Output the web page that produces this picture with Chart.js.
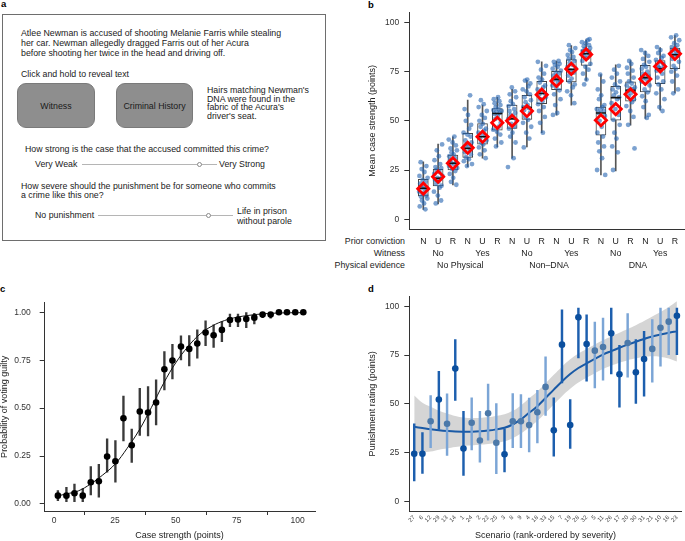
<!DOCTYPE html>
<html>
<head>
<meta charset="utf-8">
<script src="https://cdn.jsdelivr.net/npm/chart.js@4.4.1/dist/chart.umd.min.js"></script>
<style>
  body { margin: 0; width: 685px; height: 541px; overflow: hidden; background: #fff;
         font-family: "Liberation Sans", Arial, sans-serif; color: #1a1a1a; position: relative; }
  .t { position: absolute; white-space: nowrap; font-size: 8.8px; line-height: 10px; }
  .lab { position: absolute; font-weight: bold; font-size: 9.5px; line-height: 10px; color: #000; }
  .btn { position: absolute; background: #8e8e8e; border: 1px solid #7a7a7a; border-radius: 9px;
         box-sizing: border-box; font-size: 8.8px; display: flex; align-items: center; justify-content: center; }
  .slider { position: absolute; height: 1px; background: #b5b5b5; }
  .knob { position: absolute; width: 5px; height: 5px; border: 1px solid #8a8a8a; border-radius: 50%;
          background: #fff; box-sizing: border-box; }
  .row { position: absolute; right: 280px; white-space: nowrap; font-size: 8.8px; line-height: 10px; color: #222; }
  canvas { position: absolute; }
</style>
</head>
<body>

<div class="lab" style="left:1px;top:-1px">a</div>
<div class="lab" style="left:368px;top:0px">b</div>
<div class="lab" style="left:0px;top:284px">c</div>
<div class="lab" style="left:368px;top:284px">d</div>

<!-- panel a: survey screen -->
<div style="position:absolute;left:2px;top:14px;width:324px;height:227px;border:1px solid #6e6e6e;box-sizing:border-box"></div>
<div class="t" style="left:21px;top:28px">Atlee Newman is accused of shooting Melanie Farris while stealing<br>her car. Newman allegedly dragged Farris out of her Acura<br>before shooting her twice in the head and driving off.</div>
<div class="t" style="left:21px;top:69px">Click and hold to reveal text</div>
<div class="btn" style="left:17px;top:83px;width:78px;height:45px">Witness</div>
<div class="btn" style="left:116px;top:83px;width:77px;height:45px">Criminal History</div>
<div class="t" style="left:207px;top:86px;line-height:8.6px">Hairs matching Newman's<br>DNA were found in the<br>fabric of the Acura's<br>driver's seat.</div>
<div class="t" style="left:25px;top:144px">How strong is the case that the accused committed this crime?</div>
<div class="t" style="left:35px;top:159px">Very Weak</div>
<div class="slider" style="left:82px;top:164px;width:135px"></div>
<div class="knob" style="left:196.5px;top:161.5px"></div>
<div class="t" style="left:219px;top:159px">Very Strong</div>
<div class="t" style="left:21px;top:182px;line-height:9.4px">How severe should the punishment be for someone who commits<br>a crime like this one?</div>
<div class="t" style="left:35px;top:210px">No punishment</div>
<div class="slider" style="left:98px;top:215px;width:135px"></div>
<div class="knob" style="left:206px;top:212.5px"></div>
<div class="t" style="left:237px;top:205.5px">Life in prison<br>without parole</div>

<!-- panel b row captions -->
<div class="row" style="top:236px">Prior conviction</div>
<div class="row" style="top:248px">Witness</div>
<div class="row" style="top:260px">Physical evidence</div>

<canvas id="chartB" width="345" height="280" style="left:340px;top:0px"></canvas>
<canvas id="chartC" width="340" height="261" style="left:0px;top:280px"></canvas>
<canvas id="chartD" width="345" height="261" style="left:340px;top:280px"></canvas>

<script>
// ---- panel b: mean case strength per scenario type ----
var priorConviction = ['N', 'U', 'R', 'N', 'U', 'R', 'N', 'U', 'R', 'N', 'U', 'R', 'N', 'U', 'R', 'N', 'U', 'R'];
var witnessLabels = ['No', 'Yes', 'No', 'Yes', 'No', 'Yes'];
var evidenceLabels = ['No Physical', 'Non\u2013DNA', 'DNA'];
var caseMean = [15.5, 21.6, 28.4, 36.3, 41.9, 49, 50, 55, 63.3, 70.3, 76.4, 83.8, 50.3, 56, 63.5, 71.3, 77.7, 84.1];
var caseMedian = [15.7, 20.8, 28.4, 36, 41.9, 53.7, 51, 56.8, 63.9, 71.1, 76.2, 84.1, 54, 61.8, 65.5, 72, 76.5, 83.6];
var caseQ1 = [11.8, 16.9, 25, 31.4, 38.2, 45.3, 46.1, 50.7, 58.8, 65.9, 69.8, 78.2, 42.7, 50.3, 60, 64.7, 68.9, 76.5];
var caseQ3 = [20.3, 25.3, 32.6, 43.6, 48.6, 56.3, 58, 63, 70.1, 75.2, 81.1, 86.1, 57, 67.6, 69.8, 78.2, 80.7, 87];
var caseLow = [5, 7.8, 17.4, 26.7, 31, 36.8, 31, 36.8, 44, 52.9, 58, 70.6, 22.5, 24.6, 47.8, 51.2, 55.4, 64.2];
var caseHigh = [29.2, 38.2, 41.9, 60.5, 58, 62, 66, 70.6, 80, 80.4, 88.3, 91.2, 73.5, 78.5, 80.7, 85.5, 87.2, 93.4];
var caseRatings = [
  [5, 6.5, 8, 9.5, 10.5, 11.5, 12, 13, 14, 15, 15.5, 16, 17, 18, 19, 20, 21, 22, 24, 25.5, 27, 29],
  [8, 9.5, 12, 14, 16, 17, 18, 19, 20, 20.5, 21, 22, 23, 24, 25, 26, 26.5, 28, 30, 32, 35, 38],
  [17.5, 19, 21, 23, 24.5, 25.5, 26, 27, 28, 28.5, 29, 30, 31, 32, 33, 34, 35, 36, 37.5, 39, 40.5, 42],
  [27, 28, 29.5, 30.5, 31.5, 33, 34, 35, 36, 37, 38, 39, 40, 42, 43, 44, 46, 48, 50, 53, 56, 63],
  [31, 33, 35, 36.5, 38, 39, 40, 41, 42, 43, 44, 45, 46, 47, 48.5, 50, 51.5, 53, 55, 57, 58.5, 60.5],
  [37, 39, 41, 43, 44.5, 45.5, 47, 49, 51, 52.5, 53.5, 54, 54.5, 55, 55.5, 56, 57, 58, 59, 60, 61, 62],
  [26.5, 31, 39, 42, 44, 46, 47, 48.5, 50, 51, 52, 53, 54, 55, 56, 57.5, 58.5, 60, 62, 63.5, 65, 67],
  [36.5, 41, 44, 47, 49, 50.5, 52, 54, 55.5, 56.5, 57, 58, 59.5, 60.5, 62, 63.5, 65, 66, 67.5, 69, 70.5, 71],
  [44, 49, 52, 55, 57, 58.5, 60, 61, 62, 63.5, 64, 65, 66, 67, 68, 69.5, 71, 72, 74, 76, 78, 80],
  [53, 54, 58, 61, 63.5, 65.5, 67, 68, 69.5, 70.5, 71, 72, 73, 74, 74.5, 75.5, 76.5, 77.5, 78.5, 79, 80, 80.5],
  [59, 63, 65, 67, 68.5, 70, 71.5, 73, 74.5, 75.5, 76.5, 77.5, 78.5, 79.5, 80.5, 81.5, 82.5, 83.5, 85, 86, 87, 88.5],
  [68.5, 71, 74, 76, 77.5, 79, 80.5, 82, 83, 84, 84.5, 85, 85.5, 86, 86.5, 87, 88, 88.5, 89.5, 90, 91, 91.5],
  [22.5, 25, 31, 34.5, 37, 39, 42, 44, 47, 50, 52.5, 54, 55, 55.5, 56, 57, 58, 61, 63, 66, 70, 73.5],
  [25, 34, 37, 41, 44, 48, 50.5, 53, 56, 59, 61, 62, 63, 64.5, 66, 67, 68.5, 70, 72, 74, 76, 78],
  [36, 48, 52, 55, 57.5, 59.5, 61, 62.5, 64, 65, 66, 66.5, 67, 68, 69, 70, 72, 74, 75.5, 77, 79, 80.5],
  [51.5, 53, 57, 60, 62.5, 64.5, 66, 68, 70, 71, 72, 73, 74, 75, 76.5, 77.5, 78.5, 80, 81.5, 83, 84.5, 86],
  [55, 57, 61, 64, 66, 68.5, 70, 72, 74, 75.5, 76.5, 77, 77.5, 78, 79, 80, 81, 82, 83, 84.5, 86, 87.5],
  [64, 66, 70, 73, 75, 76.5, 78, 80, 81.5, 83, 83.5, 84, 85, 85.5, 86, 87, 87.5, 88.5, 89.5, 91, 92.5, 93.5]
];

// ---- panel c: probability of voting guilty ----
var strengthBins = [1.6, 5.1, 8.4, 11.8, 15.1, 18.4, 21.8, 25.2, 28.5, 31.9, 35.2, 38.6, 41.9, 45.3, 48.6, 52.1, 55.5, 58.8, 62.2, 65.5, 68.9, 72.2, 75.5, 78.9, 82.2, 85.6, 88.9, 92.3, 95.6, 99, 102.3];
var guiltyProb = [0.043, 0.043, 0.056, 0.043, 0.113, 0.118, 0.247, 0.223, 0.447, 0.306, 0.482, 0.477, 0.529, 0.703, 0.748, 0.821, 0.809, 0.837, 0.894, 0.88, 0.908, 0.96, 0.962, 0.965, 0.972, 0.988, 0.988, 1, 1, 1, 1];
var guiltyLow = [0.017, 0.012, 0.012, 0.012, 0.047, 0.035, 0.165, 0.113, 0.329, 0.217, 0.358, 0.355, 0.412, 0.595, 0.652, 0.751, 0.72, 0.76, 0.826, 0.816, 0.847, 0.925, 0.925, 0.92, 0.939, 0.972, 0.969, 1, 1, 1, 1];
var guiltyHigh = [0.07, 0.087, 0.104, 0.08, 0.195, 0.207, 0.339, 0.33, 0.563, 0.391, 0.603, 0.612, 0.647, 0.795, 0.833, 0.877, 0.878, 0.908, 0.955, 0.934, 0.951, 0.99, 0.99, 0.998, 0.995, 0.998, 0.998, 1, 1, 1, 1];
var curveStrength = [1.6, 5, 10, 15, 20, 25, 30, 35, 40, 45, 50, 55, 60, 65, 70, 75, 80, 85, 90, 95, 102.3];
var curveProb = [0.042, 0.052, 0.068, 0.104, 0.151, 0.207, 0.29, 0.386, 0.504, 0.63, 0.737, 0.821, 0.887, 0.929, 0.957, 0.974, 0.984, 0.991, 0.995, 0.997, 0.998];

// ---- panel d: punishment rating by scenario ----
var scenarioOrder = ['27', '6', '12', '29', '13', '14', '1', '24', '2', '22', '25', '3', '8', '9', '4', '18', '33', '15', '7', '19', '28', '32', '5', '11', '26', '17', '20', '30', '31', '21', '10', '16', '23'];
var punishMean = [24.4, 24.4, 41.1, 52.2, 39.8, 68.1, 27.1, 40.3, 31.2, 45.2, 30, 24.1, 41.1, 41.1, 39.1, 45.7, 58.7, 36.4, 80.4, 39.1, 94.4, 80.7, 77.3, 79.2, 86.2, 65.2, 81.2, 66.2, 73, 78.2, 89.1, 92.2, 95.2];
var punishLow = [10.4, 14.3, 27.5, 36.9, 23.5, 51.7, 13.3, 26.3, 20.1, 31.4, 14.2, 15, 27.5, 27.5, 25.3, 30, 44, 23.2, 60.8, 27.1, 73.6, 61.6, 58.2, 62.1, 65.4, 48.3, 63.7, 50.2, 53.9, 61.1, 69.3, 75.3, 75.3];
var punishHigh = [39.8, 35.2, 54.3, 66.7, 55.1, 83, 46.2, 53.1, 46.2, 60.2, 50.2, 37.2, 55.3, 54.8, 52.9, 57, 74.1, 53.1, 98.3, 52.2, 99.2, 95.7, 92, 94, 99.2, 80, 96.3, 83, 87.2, 93.2, 99.2, 99.2, 99.2];
var smoothFit = [38.2, 37.6, 37, 36.5, 36.1, 35.8, 35.7, 35.7, 35.9, 36.3, 36.9, 37.7, 39.4, 42, 45.4, 48.8, 53, 57.3, 61.5, 65.3, 68.4, 70.8, 73.1, 75.3, 77.1, 78.8, 80.4, 81.9, 83.3, 84.6, 85.6, 86.5, 87.2];
var smoothUpper = [54.3, 50.6, 48.5, 46.5, 45.1, 43.8, 43, 42.7, 42.8, 43.2, 43.8, 44.6, 46.4, 49.2, 52.9, 56.4, 60.6, 64.9, 69.1, 72.9, 75.9, 78.2, 80.5, 82.7, 84.6, 86.5, 88.4, 90.4, 92.5, 94.8, 97.1, 99.7, 102.7];
var smoothLower = [24.5, 25, 25.5, 26.5, 27.1, 27.8, 28.4, 28.7, 29, 29.4, 30, 30.8, 32.4, 34.8, 37.9, 41.2, 45.4, 49.7, 53.9, 57.7, 60.9, 63.4, 65.7, 67.9, 69.6, 71.1, 72.4, 73.4, 74.1, 74.4, 74.1, 73.3, 71.7];

Chart.defaults.font.family = '"Liberation Sans", Arial, sans-serif';
Chart.defaults.color = '#333';
Chart.defaults.animation = false;
Chart.defaults.events = [];
Chart.defaults.plugins.legend.display = false;
Chart.defaults.plugins.tooltip.enabled = false;

function fixedTicks(values) {
  return function (axis) {
    axis.ticks = values.map(function (v) { return { value: v }; });
  };
}

// y axis shared by b and d
function strengthAxis(title) {
  return {
    min: -5, max: 105,
    afterBuildTicks: fixedTicks([0, 25, 50, 75, 100]),
    ticks: { padding: 5, font: { size: 8.5 }, color: '#333' },
    grid: { drawOnChartArea: false, tickLength: 5, color: '#333' },
    border: { color: '#333' },
    title: { display: true, text: title, font: { size: 9, lineHeight: 1.2 }, color: '#222', padding: 0 },
    afterFit: function (a) { a.width = 41.7; }
  };
}

// ---- draw b ----
var catIndex = priorConviction.map(function (c, i) { return i + 1; });
var jitterOffsets = [0.14, -0.24, 0.05, -0.09, 0.27, -0.16, 0.2, -0.02, -0.28, 0.1, 0.23, -0.13, 0.02, -0.21, 0.16, -0.05, 0.29, -0.26, 0.08, -0.11, 0.21, -0.18];
var ratingPoints = [];
caseRatings.forEach(function (vals, i) {
  vals.forEach(function (v, j) {
    ratingPoints.push({ x: i + 1 + jitterOffsets[(j + i * 5) % jitterOffsets.length], y: v });
  });
});
var bMin = 0.054, bMax = 18.68;

new Chart(document.getElementById('chartB'), {
  type: 'bar',
  data: {
    datasets: [
      { type: 'scatter', data: catIndex.map(function (x, i) { return { x: x, y: caseMean[i] }; }),
        pointStyle: 'rectRot', pointRadius: 5.6, pointBorderWidth: 2.8, pointBorderColor: '#ff0000',
        pointBackgroundColor: 'rgba(0,0,0,0)', order: 0 },
      { type: 'scatter', data: catIndex.map(function (x, i) { return { x: x, y: caseMedian[i] }; }),
        pointStyle: 'line', pointRadius: 5, pointBorderWidth: 1.6, pointBorderColor: '#111', order: 1 },
      { type: 'scatter', data: ratingPoints, pointRadius: 2.4, pointBorderWidth: 0,
        pointBackgroundColor: 'rgba(36,100,176,0.6)', order: 2 },
      { type: 'bar', data: catIndex.map(function (x, i) { return { x: x, y: [caseQ1[i], caseQ3[i]] }; }),
        backgroundColor: '#ffffff', borderColor: '#444', borderWidth: 1, borderSkipped: false,
        barThickness: 10, grouped: false, order: 3 },
      { type: 'bar', data: catIndex.map(function (x, i) { return { x: x, y: [caseLow[i], caseHigh[i]] }; }),
        backgroundColor: '#555', borderWidth: 0, barThickness: 1, grouped: false, order: 4 }
    ]
  },
  options: {
    responsive: false,
    layout: { autoPadding: false, padding: { left: 27.6, top: 12.7, right: 0, bottom: 8 } },
    scales: {
      x: {
        type: 'linear', min: bMin, max: bMax, weight: 0, offset: false,
        afterBuildTicks: fixedTicks(catIndex),
        ticks: { autoSkip: false, maxRotation: 0, padding: 0, font: { size: 8.8 }, color: '#222',
                 callback: function (v, i) { return priorConviction[i]; } },
        grid: { drawOnChartArea: false, drawTicks: true, tickLength: 7, color: 'rgba(0,0,0,0)' },
        border: { color: '#333' },
        afterFit: function (a) { a.height = 19; }
      },
      x2: {
        type: 'linear', position: 'bottom', min: bMin, max: bMax, weight: 1, offset: false,
        afterBuildTicks: fixedTicks([2, 5, 8, 11, 14, 17]),
        ticks: { autoSkip: false, maxRotation: 0, padding: 0, font: { size: 8.8 }, color: '#222',
                 callback: function (v, i) { return witnessLabels[i]; } },
        grid: { display: false, drawTicks: false },
        border: { display: false },
        afterFit: function (a) { a.height = 12; }
      },
      x3: {
        type: 'linear', position: 'bottom', min: bMin, max: bMax, weight: 2, offset: false,
        afterBuildTicks: fixedTicks([3.5, 9.5, 15.5]),
        ticks: { autoSkip: false, maxRotation: 0, padding: 0, font: { size: 8.8 }, color: '#222',
                 callback: function (v, i) { return evidenceLabels[i]; } },
        grid: { display: false, drawTicks: false },
        border: { display: false },
        afterFit: function (a) { a.height = 12; }
      },
      y: strengthAxis('Mean case strength (points)')
    }
  }
});

// ---- draw c ----
new Chart(document.getElementById('chartC'), {
  type: 'bar',
  data: {
    datasets: [
      { type: 'scatter', data: strengthBins.map(function (x, i) { return { x: x, y: guiltyProb[i] }; }),
        pointRadius: 3.3, pointBorderWidth: 0, pointBackgroundColor: '#000', order: 0 },
      { type: 'line', data: curveStrength.map(function (x, i) { return { x: x, y: curveProb[i] }; }),
        borderColor: '#111', borderWidth: 1, pointRadius: 0, tension: 0.4, order: 1 },
      { type: 'bar', data: strengthBins.map(function (x, i) { return { x: x, y: [guiltyLow[i], guiltyHigh[i]] }; }),
        backgroundColor: '#3a3a3a', borderWidth: 0, barThickness: 1.7, grouped: false, order: 2 }
    ]
  },
  options: {
    responsive: false,
    layout: { autoPadding: false, padding: { left: 0, top: 22.7, right: 25, bottom: 0 } },
    scales: {
      x: {
        type: 'linear', min: -4.1, max: 107.1, offset: false,
        afterBuildTicks: fixedTicks([0, 25, 50, 75, 100]),
        ticks: { padding: 1, font: { size: 8.5 }, color: '#333', maxRotation: 0 },
        grid: { drawOnChartArea: false, tickLength: 4, color: '#333' },
        border: { color: '#333' },
        title: { display: true, text: 'Case strength (points)', font: { size: 9 }, color: '#222', padding: 0 },
        afterFit: function (a) { a.height = 30; }
      },
      y: {
        min: -0.037, max: 1.05,
        afterBuildTicks: fixedTicks([0, 0.25, 0.5, 0.75, 1]),
        ticks: { padding: 9, font: { size: 8.5 }, color: '#333',
                 callback: function (v) { return v.toFixed(2); } },
        grid: { drawOnChartArea: false, tickLength: 4.3, color: '#333' },
        border: { color: '#333' },
        title: { display: true, text: 'Probability of voting guilty', font: { size: 9, lineHeight: 1 }, color: '#222', padding: 0 },
        afterFit: function (a) { a.width = 44; }
      }
    }
  }
});

// ---- draw d ----
var scenarioIndex = scenarioOrder.map(function (s, i) { return i + 1; });
// darker / lighter blue per scenario, as in the picture
var darkScenario = [1, 1, 0, 1, 0, 1, 1, 0, 0, 0, 0, 1, 0, 0, 0, 0, 0, 1, 1, 1, 1, 1, 0, 0, 1, 1, 0, 1, 1, 0, 0, 0, 1];
var dotColors = darkScenario.map(function (d) { return d ? '#0b4f9e' : '#4c79a9'; });
var barColors = darkScenario.map(function (d) { return d ? '#1d5fae' : '#7ba5d6'; });

new Chart(document.getElementById('chartD'), {
  type: 'bar',
  data: {
    datasets: [
      { type: 'scatter', data: scenarioIndex.map(function (x, i) { return { x: x, y: punishMean[i] }; }),
        pointRadius: 3.3, pointBorderWidth: 0, pointBackgroundColor: dotColors, order: 0 },
      { type: 'bar', data: scenarioIndex.map(function (x, i) { return { x: x, y: [punishLow[i], punishHigh[i]] }; }),
        backgroundColor: barColors, borderWidth: 0, barThickness: 1.8, grouped: false, order: 1 },
      { type: 'line', data: scenarioIndex.map(function (x, i) { return { x: x, y: smoothFit[i] }; }),
        borderColor: '#1a5aa6', borderWidth: 2, pointRadius: 0, tension: 0.4, order: 2 },
      { type: 'line', data: scenarioIndex.map(function (x, i) { return { x: x, y: smoothUpper[i] }; }),
        borderWidth: 0, pointRadius: 0, tension: 0.4, fill: '+1', backgroundColor: '#d5d5d5', order: 3 },
      { type: 'line', data: scenarioIndex.map(function (x, i) { return { x: x, y: smoothLower[i] }; }),
        borderWidth: 0, pointRadius: 0, tension: 0.4, fill: false, order: 4 }
    ]
  },
  options: {
    responsive: false,
    layout: { autoPadding: false, padding: { left: 27.6, top: 16.7, right: 0, bottom: 0 } },
    scales: {
      x: {
        type: 'linear', min: 0.4, max: 33.6, offset: false,
        afterBuildTicks: fixedTicks(scenarioIndex),
        ticks: { autoSkip: false, minRotation: 45, maxRotation: 45, padding: 3, font: { size: 6 }, color: '#444',
                 callback: function (v, i) { return scenarioOrder[i]; } },
        grid: { display: false, drawTicks: false },
        border: { color: '#333' },
        title: { display: true, text: 'Scenario (rank-ordered by severity)', font: { size: 9 }, color: '#222', padding: 0 },
        afterFit: function (a) { a.height = 30; }
      },
      y: strengthAxis('Punishment rating (points)')
    }
  }
});
</script>
</body>
</html>
